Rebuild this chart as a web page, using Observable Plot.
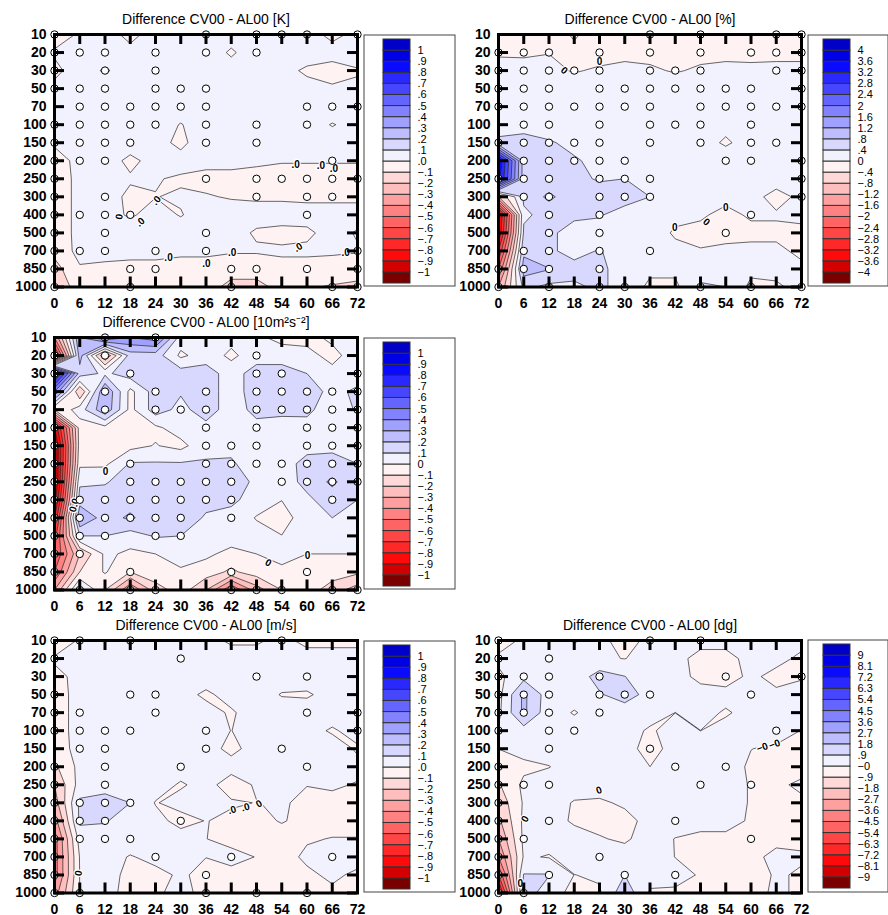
<!DOCTYPE html>
<html><head><meta charset="utf-8">
<script src="https://cdn.jsdelivr.net/npm/d3@7"></script>
<script src="https://cdn.jsdelivr.net/npm/@observablehq/plot@0.6"></script>
<style>
body{margin:0;background:#fff;}
#root{position:relative;width:888px;height:915px;overflow:hidden;background:#fff;}
#root svg{position:absolute;overflow:visible;}
</style></head><body><div id="root"></div>
<script>
// ---------- shared axes ----------
const hours = [0, 6, 12, 18, 24, 30, 36, 42, 48, 54, 60, 66, 72];
const levels = ["10","20","30","50","70","100","150","200","250","300","400","500","700","850","1000"];

// colour boxes, from lowest (below the first bound) to highest
const palette = ["#7a0000","#d20000","#ff0a0a","#ff2828","#ff4646","#ff6464","#ff8282","#ffa0a0","#ffbebe","#ffd8d8","#fff2f2",
                 "#f2f2ff","#d8d8ff","#bebeff","#a0a0ff","#8282ff","#6464ff","#4646ff","#2828ff","#0a0aff","#0000e6","#0000c8"];

// ---------- panel 1 : temperature [K] ----------
const titleK = "Difference CV00 - AL00 [K]";
const boundsK = [-1,-.9,-.8,-.7,-.6,-.5,-.4,-.3,-.2,-.1,0,.1,.2,.3,.4,.5,.6,.7,.8,.9,1];
const labelsK = ["−1","−.9","−.8","−.7","−.6","−.5","−.4","−.3","−.2","−.1",".0",".1",".2",".3",".4",".5",".6",".7",".8",".9","1"];
const valuesK = [
  [-.04,.01,.03,-.02,.03,.04,.04,.03,.04,.04,.03,-.02,.02],
  [.01,.04,.04,.02,.04,.05,.04,-.01,.04,.04,.03,.03,.03],
  [-.02,.04,-.01,.04,.05,.05,.05,.03,.04,.02,-.01,-.03,-.005],
  [.02,.05,.05,.05,.05,.05,.05,.04,.04,.03,.02,.01,.01],
  [.02,.05,.05,.05,.05,.05,.05,.04,.04,.04,.04,.05,.03],
  [.02,.05,.05,.05,.05,-.005,.05,.04,.04,.03,.04,-.005,.03],
  [.02,.05,.05,.04,.03,-.02,.05,.04,.04,.04,.04,.04,.04],
  [-.06,.04,.04,-.02,.03,.03,.02,.02,.01,.005,.005,.005,.005],
  [-.06,.03,.04,.01,.005,-.01,-.02,-.02,-.02,-.03,-.03,-.03,-.03],
  [-.06,.03,.04,-.02,-.002,.01,.005,-.005,-.01,-.01,-.01,-.01,-.01],
  [-.06,.03,.03,-.01,.03,-.005,.04,.03,.03,.03,.02,.02,.02],
  [-.06,.03,.04,.04,.04,.04,.04,.03,-.01,-.02,-.01,.02,-.005],
  [-.07,.03,.03,.02,.02,.01,.01,.01,.01,.01,.01,.01,.005],
  [-.14,-.01,-.02,-.02,-.02,-.02,-.02,-.06,-.06,-.02,-.02,-.03,-.04],
  [-.18,-.05,-.03,-.05,-.05,-.05,-.06,-.13,-.13,-.07,-.09,-.11,-.13]
];
const sigK = [
  [0,36,48,54,60,72],[0,6,12,24,36,48],[0,12,24],[0,6,12,24,30,36],[6,12,18,24,30,36,60,66,72],
  [0,6,12,18,24,36,48,60],[0,6,12,18,36,48],[0,6,12,66],[0,36,48,54,60,66,72],[0,12,48,60,66],
  [0,6,12,18,60],[0,12,36],[0,6,12,24,36,72],[0,18,24,42,48,60,72],[0,18,42,66,72]
];
// contour labels: [hour, level position, text, rotation]
const isoK = [[57.3,7.2,".0",0],[63.3,7.3,".0",0],[66.4,7.45,".0",0],[24.2,9.2,".0",-50],[15.4,10.1,"0",-80],[20.4,10.4,".0",-40],
  [27.1,12.4,".0",0],[36.1,12.7,".0",0],[42.2,12.1,".0",0],[57.9,11.8,".0",-30],[69.2,12.1,".0",0]];

// ---------- panel 2 : humidity [%] ----------
const titleP = "Difference CV00 - AL00 [%]";
const boundsP = [-4,-3.6,-3.2,-2.8,-2.4,-2,-1.6,-1.2,-.8,-.4,0,.4,.8,1.2,1.6,2,2.4,2.8,3.2,3.6,4];
const labelsP = ["−4","−3.6","−3.2","−2.8","−2.4","−2","−1.6","−1.2","−.8","−.4","0",".4",".8","1.2","1.6","2","2.4","2.8","3.2","3.6","4"];
const valuesP = [
  [-.2,-.2,-.2,.05,-.2,-.2,-.2,-.2,-.2,-.2,-.2,-.2,-.2],
  [-.05,-.05,-.01,-.1,-.15,-.1,-.1,-.1,-.1,-.1,-.1,-.1,-.1],
  [.15,.12,.1,-.03,.05,.1,.05,-.03,.05,.1,.08,.1,.1],
  [.2,.2,.2,.2,.2,.2,.2,.2,.2,.2,.2,.2,.2],
  [.2,.2,.2,.2,.2,.2,.2,.2,.2,.2,.2,.2,.2],
  [.3,.3,.3,.2,.2,.2,.2,.2,.15,.1,.2,.2,.2],
  [.45,.5,.42,.35,.3,.2,.2,.15,.15,-.05,.15,.2,.2],
  [3.6,.6,.5,.42,.35,.3,.2,.2,.2,.2,.2,.2,.2],
  [3.4,.6,.5,.45,.38,.4,.25,.2,.2,.2,.2,.2,.2],
  [-.8,.45,.9,.5,.5,.5,.4,.2,.15,.1,.15,-.15,.1],
  [-3.8,.35,.5,.45,.42,.3,.2,.1,.05,-.1,.05,.05,.05],
  [-3.6,.45,.45,.3,.3,.3,.2,-.05,-.1,-.15,-.1,-.1,-.05],
  [-2.8,.7,.45,.3,.42,.25,.2,.1,.02,.1,.1,.1,-.1],
  [-2,1.0,.82,.5,.45,.3,.1,.1,.1,.15,.1,.1,.1],
  [-1.2,.5,.3,.35,.45,.3,-.1,-.1,.5,.4,-.1,-.05,.1]
];
const sigP = [
  [36,48,66,72],[0,6,12,24,36,48,60,66,72],[0,6,12,18,24,36,42,48,66,72],[0,6,12,24,30,36,42,48,54,60,72],
  [0,6,12,18,24,30,36,48,54,60,66,72],[6,12,24,36,42,48,60],[0,6,12,18,24,36,48,60,66],[6,12,18,24,30,54,60,72],
  [0,6,12,24,30,36,72],[6,12,24,30,36,72],[12,24,60],[12,24,54],[6,12,24,36],[0,6,12,24],[0,12,24,30,48,60,72]
];
const isoP = [[24.0,1.5,"0",0],[15.6,2.0,"0",40],[54.0,9.6,"0",0],[49.4,10.4,"0",40],[41.9,10.7,"0",0]];

// ---------- panel 3 : geopotential [10m²s⁻²] ----------
const titleZ = "Difference CV00 - AL00 [10m²s⁻²]";
const boundsZ = [-1,-.9,-.8,-.7,-.6,-.5,-.4,-.3,-.2,-.1,0,.1,.2,.3,.4,.5,.6,.7,.8,.9,1];
const labelsZ = ["−1","−.9","−.8","−.7","−.6","−.5","−.4","−.3","−.2","−.1","0",".1",".2",".3",".4",".5",".6",".7",".8",".9","1"];
const valuesZ = [
  [-.4,.3,.5,.4,.45,.05,.05,.03,.02,-.03,-.03,.02,.02],
  [-.8,.25,-.3,.15,.15,-.02,.05,-.02,.05,.05,.03,-.03,.05],
  [.9,.15,.08,.15,.15,.15,.15,.05,.15,.15,.1,.03,.05],
  [.4,-.2,.3,-.03,.15,.11,.15,.05,.15,.15,.15,.07,.12],
  [-.1,.05,.28,-.03,.15,.07,.15,.05,.13,.13,.12,.05,.11],
  [-.9,-.05,-.03,-.03,-.02,.05,.07,.05,.07,.05,.07,.07,.07],
  [-1.05,-.05,-.04,-.03,.005,-.03,.07,.08,.07,.05,.07,.08,.05],
  [-1.05,-.02,-.02,.11,.11,.11,.11,.11,.06,.06,.13,.13,.1],
  [-1.05,.08,.09,.15,.15,.15,.15,.15,.08,.05,.13,.22,.12],
  [-.95,.15,.15,.15,.15,.15,.15,.13,.04,.002,.08,.15,.1],
  [-.8,.3,.15,.22,.12,.2,.08,.05,-.005,-.04,.05,.1,.05],
  [-.65,.1,.1,.05,.11,.1,.05,.05,.03,.002,.04,.05,.04],
  [-.6,-.2,.02,-.02,0,.03,.02,-.03,0,.03,0,0,0],
  [-.5,-.1,.01,-.1,-.03,-.01,-.05,-.12,-.05,-.02,-.03,-.05,-.08],
  [-.3,.15,-.1,-.4,-.15,-.05,-.2,-.5,-.25,-.1,-.05,-.15,-.25]
];
const sigZ = [
  [12,24],[0,12,48],[0,18,48,54,72],[12,24,36,48,54,60,66,72],[12,24,30,36,48,54,60,66,72],
  [0,36,48,60,66,72],[0,36,42,48,60,66,72],[0,18,36,42,48,54,60,66,72],[0,18,24,30,36,42,54,60,66,72],
  [0,6,12,18,24,30,36,42,66],[0,6,12,18,24,30,42],[0,6,12,24,30],[0,6],[0,18,42,60],[6,18,24,42,48,54,66,72]
];
const isoZ = [[12.1,7.45,"0",0],[4.7,9.3,"0.0",-75],[50.8,12.5,"0",30],[60.1,12.1,"0",0]];

// ---------- panel 4 : wind [m/s] ----------
const titleV = "Difference CV00 - AL00 [m/s]";
const boundsV = [-1,-.9,-.8,-.7,-.6,-.5,-.4,-.3,-.2,-.1,0,.1,.2,.3,.4,.5,.6,.7,.8,.9,1];
const labelsV = ["−1","−.9","−.8","−.7","−.6","−.5","−.4","−.3","−.2","−.1",".0",".1",".2",".3",".4",".5",".6",".7",".8",".9","1"];
const valuesV = [
  [-.12,.02,.03,.03,.03,.03,.02,-.01,-.01,.02,-.02,-.02,-.02],
  [.02,.03,.03,.03,.03,.03,.03,.03,.03,.03,.03,.03,.03],
  [-.04,.04,.04,.04,.04,.04,.04,.04,.04,.04,.04,.04,.04],
  [-.05,.04,.04,.04,.04,.03,-.015,.03,.04,-.005,-.01,.03,.04],
  [-.05,.04,.04,.04,.04,.04,.03,-.01,.04,.04,.04,.04,.04],
  [-.05,.04,.04,.04,.04,.04,.03,-.001,.03,.04,.03,-.01,.03],
  [-.06,.04,.04,.04,.04,.04,.03,-.02,.03,.04,.04,.04,-.01],
  [-.12,.03,.04,.04,.04,.04,.04,.03,.04,.04,.04,.03,.02],
  [-.2,.04,.05,.05,.04,-.01,.03,-.04,.01,.02,.002,.01,-.005],
  [-.25,.12,.15,.1,-.005,.03,.03,.01,-.002,.01,-.02,-.02,-.03],
  [-.35,.12,.11,.04,.03,-.03,.003,-.02,-.02,.005,-.02,-.02,-.02],
  [-.45,.04,.04,.04,.04,.04,.001,-.02,-.03,-.03,-.005,.002,.002],
  [-.45,.005,.03,-.005,.02,.03,.001,.02,-.002,-.02,.01,.02,.02],
  [-.45,.002,.03,-.02,-.02,.01,-.02,-.02,-.02,-.02,-.01,.01,-.01],
  [-.35,.002,.02,-.02,-.01,.02,-.02,-.03,-.03,-.03,-.02,-.01,-.02]
];
const sigV = [
  [0,6,18,54],[0,30],[48,60],[0,18,24],[0,6,24,60,72],[0,6,12,18,36,72],[6,12,36,54],[0,12,30,60],
  [0,12],[0,6,12,18],[0,6,12,30],[0,6,12,18],[0,24,42,66],[0,36],[0,6,36,48,60]
];
const isoV = [[42.2,9.4,".0",-15],[45.4,9.25,".0",-15],[48.6,9.05,"0",-30],[5.7,12.9,"0",-80]];

// ---------- panel 5 : geopotential height [dg] ----------
const titleD = "Difference CV00 - AL00 [dg]";
const boundsD = [-9,-8.1,-7.2,-6.3,-5.4,-4.5,-3.6,-2.7,-1.8,-.9,0,.9,1.8,2.7,3.6,4.5,5.4,6.3,7.2,8.1,9];
const labelsD = ["−9","−8.1","−7.2","−6.3","−5.4","−4.5","−3.6","−2.7","−1.8","−.9","−0",".9","1.8","2.7","3.6","4.5","5.4","6.3","7.2","8.1","9"];
const valuesD = [
  [-.5,.2,.3,-.05,.2,-.3,.2,.3,.3,.3,.3,.3,.3],
  [.2,.3,1.0,.3,.1,-.02,.3,.3,-.3,-.3,.3,.3,-.2],
  [-.2,.6,.3,.3,1.3,.92,.3,.3,-.2,-.4,.2,-.3,-.05],
  [-.3,2.0,.4,.3,.8,1.4,.5,.3,.3,.3,.3,.2,.2],
  [-.2,2.0,.3,-.05,.3,.3,.3,-.005,.3,-.1,.3,.3,.3],
  [.1,.5,.3,.3,.3,.3,-.1,.3,-.005,.3,.3,.3,-.02],
  [.01,.3,.3,.3,.3,.3,-.3,.3,.3,.3,.01,-.1,-.1],
  [-.5,-.2,-.02,.3,.3,.3,.001,.3,.3,.3,-.1,-.2,-.2],
  [-1.0,.2,.3,.3,.3,.3,.3,.3,.3,.3,-.05,-.1,.1],
  [-1.5,.1,.3,-.05,-.1,.1,.3,.3,.3,.3,-.05,-.1,-.1],
  [-2.0,.2,.3,-.1,-.2,-.2,.2,.3,.3,.3,-.1,-.1,-.1],
  [-2.7,.2,.3,.3,.05,-.1,.3,-.02,-.2,-.2,-.2,-.1,-.1],
  [-3.6,.1,-.05,.3,.3,.3,.3,-.01,-.2,-.2,-.1,.1,.05],
  [-5.4,.95,.95,-.01,.1,.9,.3,.2,-.05,-.2,-.2,.05,-.05],
  [-8,1.5,.3,-.2,-.1,1.5,-.1,-.1,-.05,-.1,-.2,.1,-.1]
];
const sigD = [
  [0,36,48],[0,12],[0,6,12,24,54,72],[0,6,12,24,30,36,60],[0,6,12,24],[0,12,18,66],[12,36],[0,42,54],
  [0,6,12,48,60],[0],[0,12,42],[0,6,60],[0,24],[0,12,30,42],[0,6]
];
const isoD = [[62.7,5.94,"−0",-20],[65.6,5.76,"−0",-20],[60.2,8.0,"0",-60],[23.9,8.3,"0",-20],[6.3,9.9,"0",-60],[5.2,13.5,"0",0]];

// ---------- drawing ----------
const FONT = "'Liberation Sans', Arial, Helvetica, sans-serif";
const FW = 303, FH = 252.5, ML = 54, MT = 33, MR = 14, MB = 32;
const root = document.getElementById("root");

function contourPanel(p) {
  const step = hours[1] - hours[0];
  const rows = d3.range(levels.length);
  const pts = p.sig.flatMap((hs, j) => hs.map(h => ({hour: h, lev: j})));
  const svg = Plot.plot({
    width: ML + FW + MR, height: MT + FH + MB,
    marginLeft: ML, marginRight: MR, marginTop: MT, marginBottom: MB,
    x: {domain: [hours[0], hours[hours.length - 1]]},
    y: {domain: [0, levels.length - 1], reverse: true},
    color: {type: "threshold", domain: p.bounds, range: palette},
    style: {fontFamily: FONT, fontSize: "14px", fontWeight: "bold", background: "transparent", color: "black"},
    marks: [
      Plot.contour(p.values.flat(), {
        width: hours.length, height: levels.length,
        x1: hours[0] - step / 2, x2: hours[hours.length - 1] + step / 2,
        y1: -0.5, y2: levels.length - 0.5,
        thresholds: [-1e9, ...p.bounds], fill: Plot.identity,
        stroke: "#262626", strokeWidth: 0.7, clip: true
      }),
      Plot.text(p.iso, {x: d => d[0], y: d => d[1], text: d => d[2], rotate: d => d[3], fontSize: 10, fontWeight: "bold",
        fill: "black", stroke: "white", strokeWidth: 2.5}),
      Plot.dot(pts, {x: "hour", y: "lev", r: 3.7, fill: "white", stroke: "black", strokeWidth: 1}),
      Plot.tickX(hours, {x: d => d, insetBottom: FH - 10, stroke: "black", strokeWidth: 3}),
      Plot.tickX(hours, {x: d => d, insetTop: FH - 10, stroke: "black", strokeWidth: 3}),
      Plot.tickY(rows, {y: d => d, insetRight: FW - 10, stroke: "black", strokeWidth: 3}),
      Plot.tickY(rows, {y: d => d, insetLeft: FW - 10, stroke: "black", strokeWidth: 3}),
      Plot.frame({stroke: "black", strokeWidth: 3}),
      Plot.axisX(hours, {anchor: "bottom", tickSize: 0, tickPadding: 11, label: null, tickFormat: d => String(d), fill: "black"}),
      Plot.axisY(rows, {anchor: "left", tickSize: 0, tickPadding: 8, label: null, tickFormat: i => levels[i], fill: "black"}),
      Plot.text([p.title], {frameAnchor: "top", dy: -20, fontSize: 14, fontWeight: "normal", fill: "black"})
    ]
  });
  svg.style.left = (p.left - ML) + "px";
  svg.style.top = (p.top - MT) + "px";
  root.appendChild(svg);
}

function colorbar(p, box) {
  const SW = 27, SH = 244, mt = 5;
  const mr = box.w - box.padL - SW, mb = box.h - mt - SH;
  const cells = palette.map((c, i) => ({i, c}));
  const svg = Plot.plot({
    width: box.w, height: box.h,
    marginLeft: box.padL, marginRight: mr, marginTop: mt, marginBottom: mb,
    x: {domain: [0, 1], axis: null},
    y: {domain: [0, palette.length], axis: null},
    color: {type: "identity"},
    style: {fontFamily: FONT, fontSize: "11px", background: "transparent", color: "black"},
    marks: [
      Plot.frame({stroke: "#444", strokeWidth: 1,
        insetLeft: -(box.padL - 0.5), insetRight: -(mr - 0.5), insetTop: -(mt - 0.5), insetBottom: -(mb - 0.5)}),
      Plot.rect(cells, {x1: 0, x2: 1, y1: d => d.i, y2: d => d.i + 1, fill: d => d.c, stroke: "#333", strokeWidth: 1}),
      Plot.text(p.labels, {x: 1, y: (d, i) => i + 1, dx: 7, textAnchor: "start", fontSize: 11, fill: "black"})
    ]
  });
  svg.style.left = box.left + "px";
  svg.style.top = box.top + "px";
  root.appendChild(svg);
}

const panels = [
  {title: titleK, values: valuesK, sig: sigK, iso: isoK, bounds: boundsK, labels: labelsK, left: 54, top: 33.5,
   box: {left: 363, top: 34, w: 92, h: 252, padL: 20}},
  {title: titleP, values: valuesP, sig: sigP, iso: isoP, bounds: boundsP, labels: labelsP, left: 498, top: 33.5,
   box: {left: 807, top: 34, w: 81, h: 252, padL: 16}},
  {title: titleZ, values: valuesZ, sig: sigZ, iso: isoZ, bounds: boundsZ, labels: labelsZ, left: 54, top: 337,
   box: {left: 363, top: 337, w: 92, h: 252, padL: 20}},
  {title: titleV, values: valuesV, sig: sigV, iso: isoV, bounds: boundsV, labels: labelsV, left: 54, top: 639.5,
   box: {left: 363, top: 640, w: 92, h: 252, padL: 20}},
  {title: titleD, values: valuesD, sig: sigD, iso: isoD, bounds: boundsD, labels: labelsD, left: 498, top: 639.5,
   box: {left: 807, top: 639, w: 81, h: 253, padL: 16}}
];
for (const p of panels) { contourPanel(p); colorbar(p, p.box); }
</script>
</body></html>
